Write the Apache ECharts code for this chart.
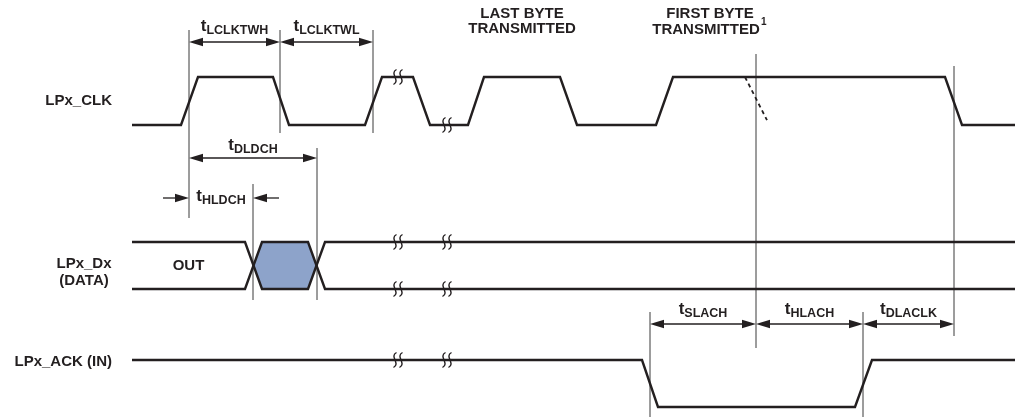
<!DOCTYPE html>
<html><head><meta charset="utf-8">
<script src="https://cdn.jsdelivr.net/npm/echarts@6/dist/echarts.min.js"></script>
<style>html,body{margin:0;padding:0;background:#fff}#c{width:1016px;height:418px}</style>
</head><body><div id="c"></div>
<script>
// ---------------- data (time units along x, logic levels 0/1) ----------------
const signalNames = ['LPx_CLK', 'LPx_Dx', '(DATA)', 'LPx_ACK (IN)'];
const busLabel = 'OUT';
const headerLines = ['LAST BYTE', 'TRANSMITTED', 'FIRST BYTE', 'TRANSMITTED'];
const footnoteMark = '1';

const clkTimes  = [132, 181, 198, 273, 289, 365, 382, 413, 430, 468, 484, 560, 577, 656, 673, 945, 962, 1015];
const clkLevels = [0, 0, 1, 1, 0, 0, 1, 1, 0, 0, 1, 1, 0, 0, 1, 1, 0, 0];

const busTimes  = [132, 245, 262, 308, 325, 1015];
const busUpper  = [1, 1, 0, 0, 1, 1];
const busLower  = [0, 0, 1, 1, 0, 0];

const ackTimes  = [132, 642, 658, 855, 872, 1015];
const ackLevels = [1, 1, 0, 0, 1, 1];

const dashTimes  = [745, 767];
const dashLevels = [1, 0.1];

const breakTimes = [398, 447];

const refTimes = [189, 280, 373, 253, 317, 756, 954, 650, 863];

const dimNames = ['LCLKTWH', 'LCLKTWL', 'DLDCH', 'HLDCH', 'SLACH', 'HLACH', 'DLACLK'];
const dimStart = [189, 280, 189, 189, 650, 756, 863];
const dimEnd   = [280, 373, 317, 253, 756, 863, 954];

// ---------------- layout / style ----------------
const INK = '#231f20';
const FONT = '"Liberation Sans", Arial, Helvetica, sans-serif';
const lanes = { clk: { hi: 77, lo: 125 }, bus: { hi: 242, lo: 289 }, ack: { hi: 360, lo: 407 } };
const refSpan = [[30, 218], [30, 133], [30, 133], [184, 300], [148, 300], [54, 348], [66, 336], [312, 417], [312, 417]];
const dimLayout = [
  { y: 42, top: 18 }, { y: 42, top: 18 }, { y: 158, top: 137 },
  { y: 198, top: 188, outside: true, tailL: 26, tailR: 26 },
  { y: 324, top: 301 }, { y: 324, top: 301 }, { y: 324, top: 301 }
];
const nameLayout = [
  { x: 112, y: 100.5, align: 'right' }, { x: 84, y: 264, align: 'center' },
  { x: 84, y: 281, align: 'center' }, { x: 112, y: 362, align: 'right' }
];
const headerLayout = [
  { x: 522, y: 14 }, { x: 522, y: 29 }, { x: 710, y: 14 }, { x: 706, y: 29.5 }
];
const busLabelPos = { x: 188.5, y: 266 };
const footPos = { x: 761, y: 22 };

function yOf(lane, level) { const L = lanes[lane]; return L.lo + (L.hi - L.lo) * level; }
function levelAt(times, levels, t) {
  for (let i = 0; i < times.length - 1; i++) {
    if (t >= times[i] && t <= times[i + 1]) {
      const f = (t - times[i]) / (times[i + 1] - times[i]);
      return levels[i] + (levels[i + 1] - levels[i]) * f;
    }
  }
  return levels[levels.length - 1];
}

function wave(times, levels, lane) { return times.map((t, i) => [t, yOf(lane, levels[i])]); }
function lineSeries(data, extra) {
  return Object.assign({
    type: 'line', data, symbol: 'none', showSymbol: false, animation: false, silent: true, z: 5,
    lineStyle: { color: INK, width: 2.4, join: 'miter', cap: 'butt' }
  }, extra || {});
}

const chart = echarts.init(document.getElementById('c'), null, { renderer: 'canvas' });

// break mark positions
const breaks = [];
breakTimes.forEach(t => {
  breaks.push([t, yOf('clk', levelAt(clkTimes, clkLevels, t))]);
  breaks.push([t, yOf('bus', 1)]);
  breaks.push([t, yOf('bus', 0)]);
  breaks.push([t, yOf('ack', 1)]);
});

function arrowHead(tip, dir) { // dir: +1 pointing right, -1 pointing left
  const L = 14, H = 4.2;
  return { type: 'polygon', shape: { points: [[tip[0], tip[1]], [tip[0] - dir * L, tip[1] - H], [tip[0] - dir * L, tip[1] + H]] }, style: { fill: INK } };
}
const richT = {
  t: { fontSize: 17, fontWeight: 'bold', fontFamily: FONT, lineHeight: 18, verticalAlign: 'top', fill: INK },
  s: { fontSize: 12.5, fontWeight: 'bold', fontFamily: FONT, lineHeight: 12, padding: [6, 0, 0, 0], verticalAlign: 'top', fill: INK }
};

const textItems = [];
signalNames.forEach((s, i) => textItems.push({ text: s, x: nameLayout[i].x, y: nameLayout[i].y, align: nameLayout[i].align, size: 15 }));
headerLines.forEach((s, i) => textItems.push({ text: s, x: headerLayout[i].x, y: headerLayout[i].y, align: 'center', size: 15 }));
textItems.push({ text: busLabel, x: busLabelPos.x, y: busLabelPos.y, align: 'center', size: 15 });
textItems.push({ text: footnoteMark, x: footPos.x, y: footPos.y, align: 'left', size: 10 });

const option = {
  animation: false,
  backgroundColor: '#ffffff',
  grid: { left: 0, right: 0, top: 0, bottom: 0, containLabel: false },
  xAxis: { type: 'value', min: 0, max: 1016, show: false },
  yAxis: { type: 'value', min: 0, max: 418, inverse: true, show: false },
  series: [
    // data bus fill
    {
      type: 'custom', z: 2, silent: true, animation: false, data: [[0, 0]],
      renderItem: (p, api) => {
        const hi = yOf('bus', 1), lo = yOf('bus', 0), mid = (hi + lo) / 2;
        const a = busTimes[1], b = busTimes[2], c = busTimes[3], d = busTimes[4];
        const pts = [[(a + b) / 2, mid], [b, hi], [c, hi], [(c + d) / 2, mid], [c, lo], [b, lo]].map(q => api.coord(q));
        return { type: 'polygon', shape: { points: pts }, style: { fill: '#8da3ca' } };
      }
    },
    lineSeries(wave(clkTimes, clkLevels, 'clk')),
    lineSeries(wave(busTimes, busUpper, 'bus')),
    lineSeries(wave(busTimes, busLower, 'bus')),
    lineSeries(wave(ackTimes, ackLevels, 'ack')),
    lineSeries(wave(dashTimes, dashLevels, 'clk'), { lineStyle: { color: INK, width: 1.8, type: [4, 3.5] } }),
    // reference verticals
    {
      type: 'custom', z: 4, silent: true, animation: false, data: refTimes.map((t, i) => [t, i]),
      renderItem: (p, api) => {
        const i = p.dataIndex, t = api.value(0);
        const a = api.coord([t, refSpan[i][0]]), b = api.coord([t, refSpan[i][1]]);
        return { type: 'line', shape: { x1: a[0], y1: a[1], x2: b[0], y2: b[1] }, style: { stroke: '#3a3a3a', lineWidth: 1 } };
      }
    },
    // dimension arrows
    {
      type: 'custom', z: 6, silent: true, animation: false, data: dimNames.map((n, i) => [dimStart[i], i]),
      renderItem: (p, api) => {
        const i = p.dataIndex, L = dimLayout[i];
        const a = api.coord([dimStart[i], L.y]), b = api.coord([dimEnd[i], L.y]);
        const children = [];
        if (L.outside) {
          const a0 = api.coord([dimStart[i] - L.tailL, L.y]), b0 = api.coord([dimEnd[i] + L.tailR, L.y]);
          children.push({ type: 'line', shape: { x1: a0[0], y1: a0[1], x2: a[0] - 4, y2: a[1] }, style: { stroke: INK, lineWidth: 1.3 } });
          children.push(arrowHead(a, 1));
          children.push({ type: 'line', shape: { x1: b0[0], y1: b0[1], x2: b[0] + 4, y2: b[1] }, style: { stroke: INK, lineWidth: 1.3 } });
          children.push(arrowHead(b, -1));
        } else {
          children.push({ type: 'line', shape: { x1: a[0] + 4, y1: a[1], x2: b[0] - 4, y2: b[1] }, style: { stroke: INK, lineWidth: 1.3 } });
          children.push(arrowHead(a, -1));
          children.push(arrowHead(b, 1));
        }
        const c = api.coord([(dimStart[i] + dimEnd[i]) / 2, L.top]);
        children.push({
          type: 'text', x: c[0], y: c[1],
          style: { text: '{t|t}{s|' + dimNames[i] + '}', align: 'center', verticalAlign: 'top', fill: INK, rich: richT, fontFamily: FONT, fontWeight: 'bold' }
        });
        return { type: 'group', children };
      }
    },
    // break marks
    {
      type: 'custom', z: 7, silent: true, animation: false, data: breaks,
      renderItem: (p, api) => {
        const c = api.coord([api.value(0), api.value(1)]);
        const mk = (cx, cy) => ({
          type: 'bezierCurve',
          shape: { x1: cx + 1.5, y1: cy - 7.5, cpx1: cx - 6, cpy1: cy - 3.5, cpx2: cx + 6, cpy2: cy + 3.5, x2: cx - 1.5, y2: cy + 7.5 },
          style: { stroke: INK, lineWidth: 1.4, fill: null }
        });
        return { type: 'group', children: [mk(c[0] - 3, c[1]), mk(c[0] + 3, c[1])] };
      }
    },
    // text labels
    {
      type: 'custom', z: 8, silent: true, animation: false, data: textItems.map((t, i) => [t.x, t.y]),
      renderItem: (p, api) => {
        const it = textItems[p.dataIndex];
        const c = api.coord([it.x, it.y]);
        return {
          type: 'text', x: c[0], y: c[1],
          style: { text: it.text, align: it.align, verticalAlign: 'middle', fill: INK, fontSize: it.size, fontWeight: 'bold', fontFamily: FONT }
        };
      }
    }
  ]
};
chart.setOption(option);
</script></body></html>
